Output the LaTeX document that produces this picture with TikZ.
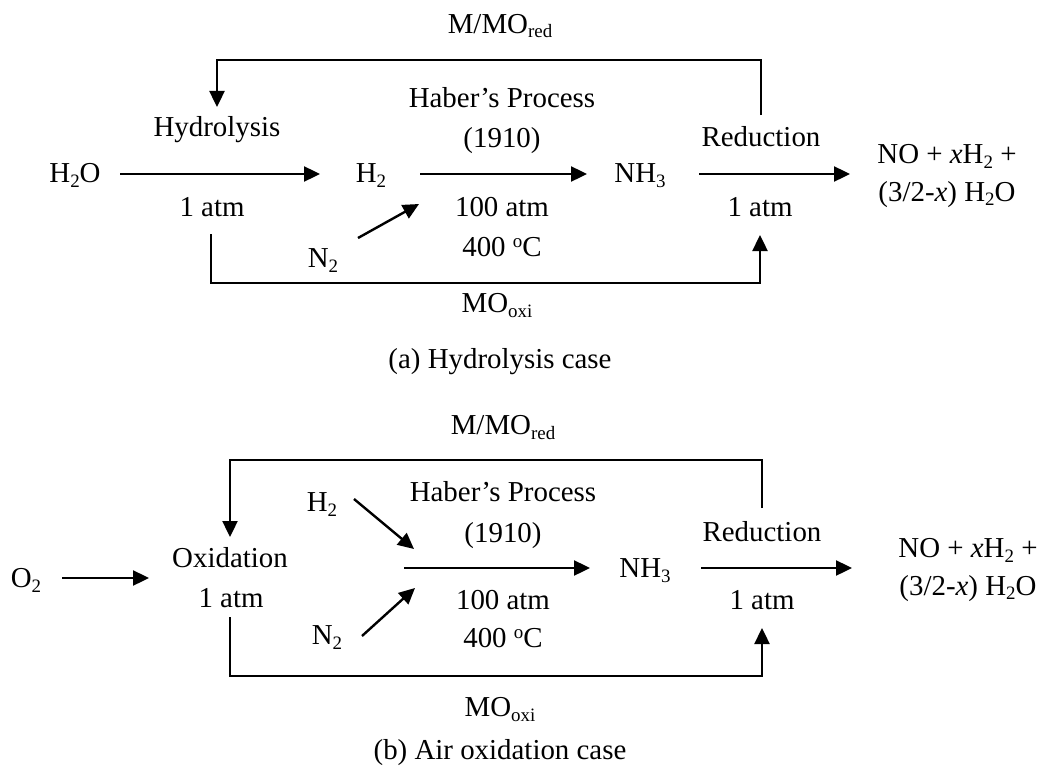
\documentclass[tikz,border=0pt]{standalone}
\usepackage{fontspec}
\setmainfont{Liberation Serif}
\usetikzlibrary{arrows.meta,calc}
\newcommand{\ssub}[1]{\raisebox{-4.5bp}{\fontsize{19}{19}\selectfont #1}}
\newcommand{\ssup}[1]{\raisebox{9bp}{\fontsize{19}{19}\selectfont #1}}
\begin{document}
\begin{tikzpicture}[x=1bp,y=-1bp,
  lbl/.style={inner sep=0pt, text height=19bp, text depth=6bp, font=\fontsize{29}{34}\selectfont},
  two/.style={inner sep=0pt, align=center, font=\fontsize{29}{38}\selectfont},
  arr/.style={line width=2.4bp, -{Triangle[length=16bp,width=15bp]}},
  ln/.style={line width=2.4bp}]
\path[use as bounding box] (0,0) rectangle (1043,782);

% ---------------- (a) Hydrolysis case ----------------
\node[lbl] (mredA) at (500,27) {M/MO\ssub{red}};
\node[lbl] (hyd) at (217,130) {Hydrolysis};
\node[lbl] (h2o) at (75,176) {H\ssub{2}O};
\node[lbl] (h2A) at (371,176) {H\ssub{2}};
\node[lbl] (haberA) at (502,101) {Haber’s Process};
\node[lbl] (yrA) at (502,141) {(1910)};
\node[lbl] (nh3A) at (640,176) {NH\ssub{3}};
\node[lbl] (redA) at (761,140) {Reduction};
\node[two] (prodA) at (947,176) {NO + \textit{x}H\ssub{2} +\\(3/2-\textit{x}) H\ssub{2}O};
\node[lbl] (atmA) at (212,210) {1 atm};
\node[lbl] (hpA) at (502,210) {100 atm};
\node[lbl] (tA) at (502,250) {400 \ssup{o}C};
\node[lbl] (atmRA) at (760,210) {1 atm};
\node[lbl] (n2A) at (323,261) {N\ssub{2}};
\node[lbl] (moxA) at (497,306) {MO\ssub{oxi}};
\node[lbl] (capA) at (500,362) {(a) Hydrolysis case};

\coordinate (topA) at (500,60);
\coordinate (botA) at (500,283);
\coordinate (n2inA) at (419,204);

\draw[arr, shorten <=45bp, shorten >=51bp] ([yshift=2bp]h2o.center) -- ([yshift=2bp]h2A.center);
\draw[arr, shorten <=49bp, shorten >=53bp] ([yshift=2bp]h2A.center) -- ([yshift=2bp]nh3A.center);
\draw[arr, shorten <=59bp, shorten >=97bp] ([yshift=2bp]nh3A.center) -- ([yshift=2bp]prodA.center);
\draw[arr] ($(n2A.center)+(35,-23)$) -- (n2inA);
\draw[arr] ($(redA.center)+(0,-25)$) |- (topA) -| ($(hyd.center)+(0,-23)$);
\draw[arr] ($(atmA.center)+(-1,24)$) |- (botA) -| ($(atmRA.center)+(0,25)$);

% ---------------- (b) Air oxidation case ----------------
\node[lbl] (mredB) at (503,428) {M/MO\ssub{red}};
\node[lbl] (o2) at (26,581) {O\ssub{2}};
\node[lbl] (oxi) at (230,561) {Oxidation};
\node[lbl] (atmB) at (231,601) {1 atm};
\node[lbl] (h2B) at (322,505) {H\ssub{2}};
\node[lbl] (n2B) at (327,638) {N\ssub{2}};
\node[lbl] (haberB) at (503,495) {Haber’s Process};
\node[lbl] (yrB) at (503,536) {(1910)};
\node[lbl] (hpB) at (503,603) {100 atm};
\node[lbl] (tB) at (503,641) {400 \ssup{o}C};
\node[lbl] (nh3B) at (645,571) {NH\ssub{3}};
\node[lbl] (redB) at (762,535) {Reduction};
\node[lbl] (atmRB) at (762,603) {1 atm};
\node[two] (prodB) at (968,570) {NO + \textit{x}H\ssub{2} +\\(3/2-\textit{x}) H\ssub{2}O};
\node[lbl] (moxB) at (500,710) {MO\ssub{oxi}};
\node[lbl] (capB) at (500,753) {(b) Air oxidation case};

\coordinate (topB) at (500,460);
\coordinate (botB) at (500,676);
\coordinate (o2in) at (149,578);
\coordinate (h2inB) at (414,549);
\coordinate (n2inB) at (415,588);
\coordinate (hjoin) at (404,568);

\draw[arr] ($(o2.center)+(36,-3)$) -- (o2in);
\draw[arr] ($(h2B.center)+(32,-6)$) -- (h2inB);
\draw[arr] ($(n2B.center)+(35,-2)$) -- (n2inB);
\draw[arr, shorten >=55bp] (hjoin) -- (hjoin -| nh3B.center);
\draw[arr, shorten <=56bp, shorten >=116bp] (hjoin -| nh3B.center) -- (hjoin -| prodB.center);
\draw[arr] ($(redB.center)+(0,-27)$) |- (topB) -| ($(oxi.center)+(0,-24)$);
\draw[arr] ($(atmB.center)+(-1,16)$) |- (botB) -| ($(atmRB.center)+(0,25)$);
\end{tikzpicture}
\end{document}
